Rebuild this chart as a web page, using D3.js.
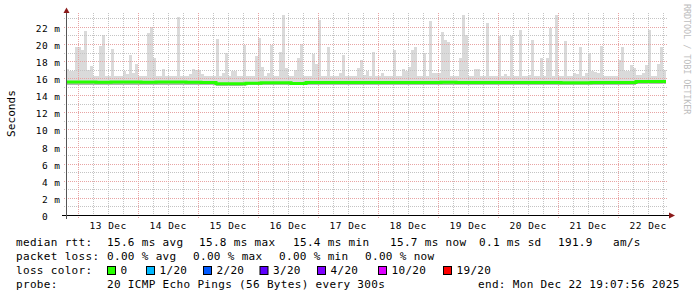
<!DOCTYPE html>
<meta charset="utf-8">
<title>SmokePing - 10 days</title>
<style>
  body { margin: 0; background: #fff; }
  svg text { font-family: "DejaVu Sans Mono", monospace; fill: #000; }
</style>
<body>
<div id="chart"></div>
<script src="https://d3js.org/d3.v7.min.js"></script>
<script>

// end of the graph, 10 days back; one smoke column every 72 minutes
var endTime = Date.UTC(2025, 11, 22, 19, 7, 56);
var spanDays = 10;
var maxStepMin = 72, medianStepMin = 360, lowStepMin = 720;

// highest ping per column (ms)
var rttMax = [
  17.1, 16.8, 16.8, 19.6, 19.7, 19.3, 21.5, 17.0, 17.4, 16.3,
  16.3, 19.8, 21.1, 16.3, 16.3, 19.4, 16.3, 16.2, 16.3, 16.8,
  16.5, 18.7, 16.6, 17.7, 16.3, 16.3, 16.3, 21.3, 22.0, 18.4,
  16.3, 16.2, 17.1, 16.3, 16.2, 16.3, 16.3, 23.1, 16.3, 16.2,
  16.3, 16.5, 17.1, 16.9, 16.9, 16.5, 16.3, 16.3, 16.3, 16.2,
  20.6, 16.2, 16.6, 19.0, 16.2, 16.8, 16.8, 16.2, 16.2, 19.9,
  16.2, 16.2, 16.2, 18.6, 20.7, 17.3, 16.2, 16.6, 19.9, 16.2,
  16.2, 19.1, 23.4, 17.2, 16.2, 16.2, 17.0, 18.4, 20.0, 16.2,
  16.3, 16.2, 18.8, 17.7, 22.8, 16.2, 16.2, 19.7, 16.2, 16.2,
  16.3, 16.6, 18.7, 16.2, 16.2, 16.2, 16.2, 17.2, 18.1, 16.4,
  16.8, 16.2, 19.1, 16.2, 16.2, 16.6, 16.2, 16.2, 16.2, 19.3,
  16.3, 16.2, 17.1, 16.8, 17.3, 19.3, 19.7, 16.3, 16.2, 19.0,
  16.2, 22.7, 16.6, 16.6, 16.6, 21.4, 20.5, 20.2, 16.2, 16.2,
  16.2, 18.3, 23.4, 21.1, 16.2, 16.2, 17.1, 17.1, 16.2, 16.2,
  22.5, 16.2, 16.3, 16.2, 20.9, 16.2, 16.5, 16.2, 20.9, 16.2,
  16.2, 21.6, 16.2, 16.2, 16.4, 20.5, 16.2, 16.2, 18.3, 16.2,
  18.4, 21.9, 16.2, 23.4, 16.3, 16.2, 20.3, 16.2, 16.2, 16.6,
  16.5, 19.6, 16.2, 16.6, 18.9, 16.8, 16.7, 16.6, 19.8, 16.2,
  16.2, 16.2, 16.2, 16.2, 18.1, 19.7, 16.8, 16.8, 17.5, 17.2,
  16.4, 16.4, 16.6, 17.5, 21.6, 16.2, 16.3, 17.7, 19.6, 17.0
];

// median rtt every 6 hours (ms)
var rttMedian = [
  15.55, 15.55, 15.52, 15.55, 15.55, 15.52, 15.55, 15.55, 15.53, 15.50,
  15.35, 15.35, 15.42, 15.45, 15.45, 15.38, 15.48, 15.50, 15.50, 15.50,
  15.50, 15.48, 15.50, 15.50, 15.50, 15.52, 15.48, 15.50, 15.50, 15.50,
  15.50, 15.50, 15.50, 15.45, 15.45, 15.50, 15.50, 15.48, 15.62, 15.62
];

// lowest ping every 12 hours (ms)
var rttLow = [
  15.25, 15.25, 15.25, 15.25, 15.20, 15.10, 15.20, 15.15, 15.25, 15.20,
  15.25, 15.20, 15.25, 15.20, 15.25, 15.20, 15.20, 15.20, 15.25, 15.30
];

var yTicks = [0, 2, 4, 6, 8, 10, 12, 14, 16, 18, 20, 22];
var yTickLabels = ["0  ", "2 m", "4 m", "6 m", "8 m", "10 m", "12 m", "14 m", "16 m", "18 m", "20 m", "22 m"];
var days = ["2025-12-13", "2025-12-14", "2025-12-15", "2025-12-16", "2025-12-17",
            "2025-12-18", "2025-12-19", "2025-12-20", "2025-12-21", "2025-12-22"];
var dayLabels = ["13 Dec", "14 Dec", "15 Dec", "16 Dec", "17 Dec",
                 "18 Dec", "19 Dec", "20 Dec", "21 Dec", "22 Dec"];

var rttStats = ["15.6 ms avg", "15.8 ms max", "15.4 ms min", "15.7 ms now", "0.1 ms sd", "191.9", "am/s"];
var lossStats = ["0.00 % avg", "0.00 % max", "0.00 % min", "0.00 % now"];
var lossLabels = ["0", "1/20", "2/20", "3/20", "4/20", "10/20", "19/20"];
var lossColors = ["#26ff00", "#00b8ff", "#0059ff", "#5e00ff", "#7e00ff", "#dd00ff", "#ff0000"];
var probeText = "20 ICMP Echo Pings (56 Bytes) every 300s";
var endText = "end: Mon Dec 22 19:07:56 2025";

// layout
var W = 697, H = 297;
var plotL = 66, plotR = 666, plotT = 13, plotB = 215;
var MIN = 60000;
var startTime = endTime - spanDays * 1440 * MIN;

var svg = d3.select("#chart").append("svg")
    .attr("width", W).attr("height", H);
svg.append("rect").attr("width", W).attr("height", H).attr("fill", "#fff");

var x = d3.scaleUtc().domain([new Date(startTime), new Date(endTime)]).range([plotL, plotR]);
var y = d3.scaleLinear().domain([0, 23.62]).range([plotB, plotT]);

function tAt(i, stepMin) { return new Date(startTime + i * stepMin * MIN); }
function px(v) { return Math.round(v) + 0.5; }

// smoke: light gray from lowest to highest ping
svg.append("g").selectAll("rect")
  .data(rttMax).join("rect")
    .attr("x", function(d, i) { return x(tAt(i, maxStepMin)); })
    .attr("width", function(d, i) { return x(tAt(i + 1, maxStepMin)) - x(tAt(i, maxStepMin)); })
    .attr("y", function(d) { return y(d); })
    .attr("height", function(d, i) {
      var lo = rttLow[Math.floor(i * maxStepMin / lowStepMin)];
      return y(lo) - y(d);
    })
    .attr("fill", "#dadada")
    .attr("shape-rendering", "crispEdges");

// denser smoke below the median
svg.append("g").selectAll("rect")
  .data(rttMedian).join("rect")
    .attr("x", function(d, i) { return x(tAt(i, medianStepMin)); })
    .attr("width", function(d, i) { return x(tAt(i + 1, medianStepMin)) - x(tAt(i, medianStepMin)); })
    .attr("y", function(d) { return y(d); })
    .attr("height", function(d, i) {
      var lo = rttLow[Math.floor(i * medianStepMin / lowStepMin)];
      return y(lo) - y(d);
    })
    .attr("fill", "#b4b4b4")
    .attr("shape-rendering", "crispEdges");

// grid
var grid = svg.append("g").attr("fill", "none").attr("stroke-dasharray", "1,1");
var midnights = d3.utcDay.range(new Date(startTime), new Date(endTime));
var sixHours = d3.utcHour.every(6).range(new Date(startTime), new Date(endTime))
  .filter(function(d) { return d.getUTCHours() !== 0; });
var yMinor = d3.range(1, 24).filter(function(v) { return v % 2 === 1; });

grid.selectAll(".vminor").data(sixHours).join("line")
    .attr("x1", function(d) { return px(x(d)); }).attr("x2", function(d) { return px(x(d)); })
    .attr("y1", plotT).attr("y2", plotB + 2)
    .attr("stroke", "#c4c4c4");
grid.selectAll(".hminor").data(yMinor).join("line")
    .attr("x1", plotL - 2).attr("x2", plotR + 2)
    .attr("y1", function(d) { return px(y(d)); }).attr("y2", function(d) { return px(y(d)); })
    .attr("stroke", "#c4c4c4");
grid.selectAll(".vmajor").data(midnights).join("line")
    .attr("x1", function(d) { return px(x(d)); }).attr("x2", function(d) { return px(x(d)); })
    .attr("y1", plotT).attr("y2", plotB + 3)
    .attr("stroke", "#e8a4a4");
grid.selectAll(".hmajor").data(yTicks.slice(1)).join("line")
    .attr("x1", plotL - 2).attr("x2", plotR + 2)
    .attr("y1", function(d) { return px(y(d)); }).attr("y2", function(d) { return px(y(d)); })
    .attr("stroke", "#e8a4a4");

// median line, loss color 0
var medianPts = rttMedian.map(function(v, i) { return { t: tAt(i, medianStepMin), v: v }; });
medianPts.push({ t: new Date(endTime), v: rttMedian[rttMedian.length - 1] });
svg.append("path")
    .datum(medianPts)
    .attr("fill", "none")
    .attr("stroke", lossColors[0])
    .attr("stroke-width", 3)
    .attr("d", d3.line()
      .x(function(d) { return x(d.t); })
      .y(function(d) { return y(d.v); })
      .curve(d3.curveStepAfter));

// axes
svg.append("line")
    .attr("x1", plotL - 4).attr("x2", plotR + 4)
    .attr("y1", plotB + 0.5).attr("y2", plotB + 0.5)
    .attr("stroke", "#000");
svg.append("line")
    .attr("x1", plotL + 0.5).attr("x2", plotL + 0.5)
    .attr("y1", plotB + 4).attr("y2", plotT - 3)
    .attr("stroke", "#555");
svg.append("path")
    .attr("d", "M" + (plotR + 3) + "," + (plotB - 2.5) + "L" + (plotR + 9) + "," + (plotB + 0.5) +
               "L" + (plotR + 3) + "," + (plotB + 3.5) + "Z")
    .attr("fill", "#8b1a1a");
svg.append("path")
    .attr("d", "M" + (plotL - 2.5) + "," + (plotT) + "L" + (plotL + 0.5) + "," + (plotT - 5.5) +
               "L" + (plotL + 3.5) + "," + (plotT) + "Z")
    .attr("fill", "#8b1a1a");

// tick labels
var axisFont = { size: "9.5px", spacing: "0.48px" };
svg.append("g").selectAll("text")
  .data(yTicks).join("text")
    .attr("x", 60.5)
    .attr("y", function(d) { return y(d) + 5; })
    .attr("text-anchor", "end")
    .style("white-space", "pre")
    .style("font-size", axisFont.size)
    .style("letter-spacing", axisFont.spacing)
    .text(function(d, i) { return yTickLabels[i]; });

svg.append("g").selectAll("text")
  .data(days).join("text")
    .attr("x", function(d) { return x(new Date(d + "T12:00:00Z")); })
    .attr("y", 228.5)
    .attr("text-anchor", "middle")
    .style("font-size", axisFont.size)
    .style("letter-spacing", axisFont.spacing)
    .text(function(d, i) { return dayLabels[i]; });

// vertical title and watermark
svg.append("text")
    .attr("transform", "translate(15,113.5) rotate(-90)")
    .attr("text-anchor", "middle")
    .style("font-size", "11px")
    .style("letter-spacing", "0.1px")
    .text("Seconds");
svg.append("text")
    .attr("transform", "translate(684,4) rotate(90)")
    .style("font-size", "8.5px")
    .style("letter-spacing", "-0.1px")
    .style("fill", "#bdbdbd")
    .text("RRDTOOL / TOBI OETIKER");

// legend
var lg = svg.append("g").style("font-size", "11px").style("letter-spacing", "0.33px");
var rows = [245.5, 259.5, 273.5, 287.5];
var col0 = 16, col1 = 107;
function put(tx, xx, yy) { lg.append("text").attr("x", xx).attr("y", yy).text(tx); }

put("median rtt:", col0, rows[0]);
var rttX = [107, 199, 293, 390, 479, 558, 613];
rttStats.forEach(function(s, i) { put(s, rttX[i], rows[0]); });

put("packet loss:", col0, rows[1]);
var lossX = [107, 193, 279, 365];
lossStats.forEach(function(s, i) { put(s, lossX[i], rows[1]); });

put("loss color:", col0, rows[2]);
var boxX = [107, 146, 203, 259.5, 317, 378, 443];
lossLabels.forEach(function(s, i) {
  lg.append("rect")
      .attr("x", boxX[i] + 0.5).attr("y", 266.5)
      .attr("width", 8).attr("height", 8)
      .attr("fill", lossColors[i])
      .attr("stroke", "#000");
  put(s, boxX[i] + 13.5, rows[2]);
});

put("probe:", col0, rows[3]);
put(probeText, col1, rows[3]);
put(endText, 478, rows[3]);

</script>
</body>
